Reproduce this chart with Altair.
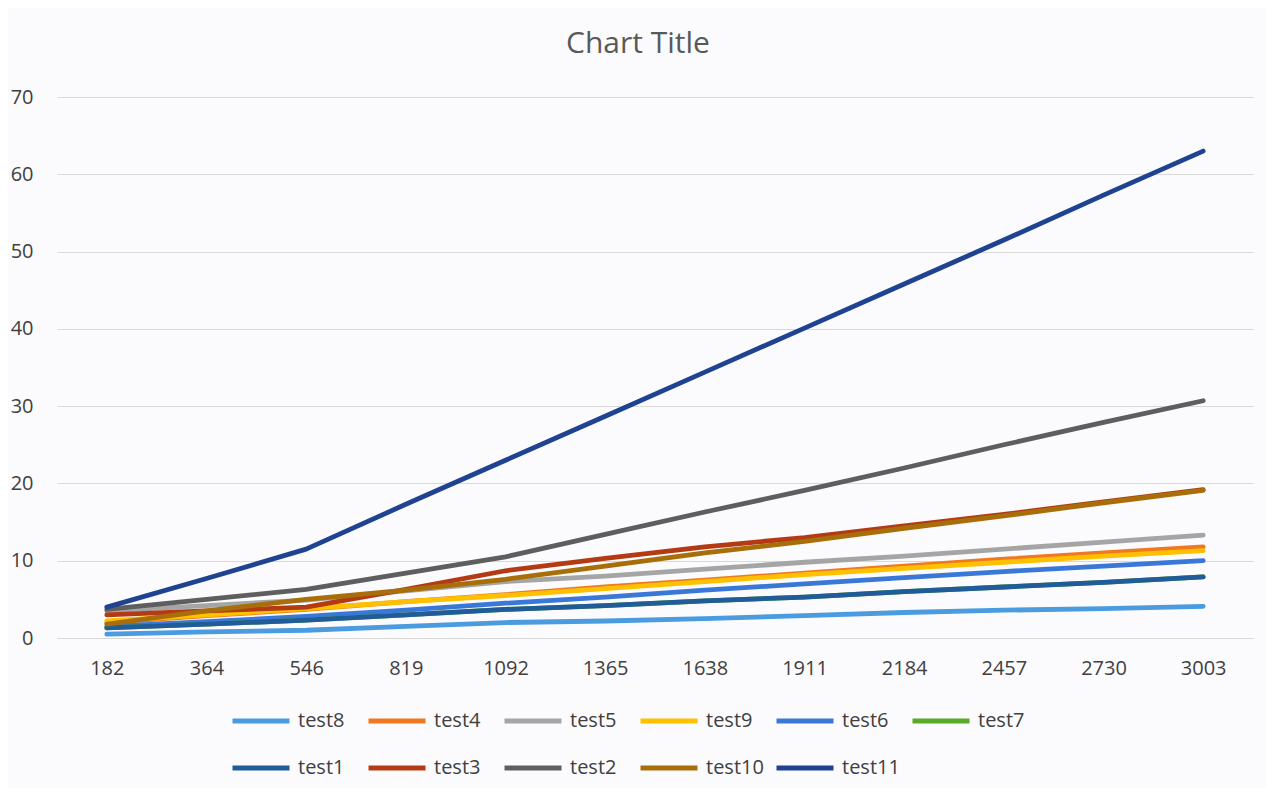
import altair as alt
import pandas as pd

categories = ["182", "364", "546", "819", "1092", "1365", "1638", "1911", "2184", "2457", "2730", "3003"]

series_names = ["test8", "test4", "test5", "test9", "test6", "test7",
                "test1", "test3", "test2", "test10", "test11"]

test8 = [0.5, 0.8, 1.0, 1.5, 2.0, 2.2, 2.5, 2.9, 3.3, 3.6, 3.8, 4.1]
test4 = [2.0, 2.9, 3.7, 4.7, 5.6, 6.6, 7.5, 8.4, 9.3, 10.2, 11.0, 11.8]
test5 = [3.5, 4.2, 4.9, 6.1, 7.3, 8.0, 8.9, 9.8, 10.6, 11.5, 12.4, 13.3]
test9 = [2.2, 3.0, 3.8, 4.7, 5.5, 6.4, 7.3, 8.2, 9.0, 9.8, 10.6, 11.3]
test6 = [1.5, 2.1, 2.8, 3.6, 4.5, 5.3, 6.2, 7.0, 7.8, 8.6, 9.3, 10.0]
test7 = [1.3, 1.8, 2.3, 3.0, 3.7, 4.2, 4.8, 5.3, 6.0, 6.6, 7.2, 7.9]
test1 = [1.3, 1.8, 2.3, 3.0, 3.7, 4.2, 4.8, 5.3, 6.0, 6.6, 7.2, 7.9]
test3 = [3.0, 3.5, 4.0, 6.3, 8.7, 10.3, 11.8, 13.0, 14.5, 16.0, 17.6, 19.2]
test2 = [3.7, 5.0, 6.3, 8.4, 10.5, 13.4, 16.3, 19.1, 22.0, 25.0, 27.9, 30.7]
test10 = [1.8, 3.5, 5.0, 6.2, 7.6, 9.3, 11.0, 12.5, 14.2, 15.8, 17.5, 19.1]
test11 = [4.0, 7.7, 11.5, 17.3, 23.0, 28.7, 34.4, 40.1, 45.8, 51.5, 57.3, 63.0]

series_values = [test8, test4, test5, test9, test6, test7,
                 test1, test3, test2, test10, test11]

colors = ["#4A9BE0", "#F07820", "#A5A5A5", "#FFC000", "#3A78D8", "#5AAA2A",
          "#1F5C99", "#B43A14", "#5E5E5E", "#A86E0A", "#1F4391"]

rows = []
for k, (name, vals) in enumerate(zip(series_names, series_values)):
    for i, (c, v) in enumerate(zip(categories, vals)):
        rows.append({"series": name, "cat": c, "value": v, "idx": i, "k": k})
df = pd.DataFrame(rows)

FONT = "Open Sans"
TXT = "#404040"

chart = alt.Chart(df).mark_line(strokeWidth=4.8, strokeCap="round", strokeJoin="round").encode(
    x=alt.X("cat:N", sort=categories, title=None,
            scale=alt.Scale(type="point", padding=0.5),
            axis=alt.Axis(labelAngle=0, labelFontSize=20, labelColor=TXT, labelFont=FONT,
                          ticks=False, domainColor="#D9D9D9", domainWidth=1,
                          labelPadding=20, grid=False)),
    y=alt.Y("value:Q", title=None,
            scale=alt.Scale(domain=[0, 70], nice=False),
            axis=alt.Axis(values=[0, 10, 20, 30, 40, 50, 60, 70], labelFontSize=20,
                          labelColor=TXT, labelFont=FONT, ticks=False, domain=False,
                          gridColor="#D9D9D9", gridWidth=1, labelPadding=24)),
    color=alt.Color("series:N", sort=series_names,
                    scale=alt.Scale(domain=series_names, range=colors),
                    legend=alt.Legend(title=None, orient="none", legendX=173, legendY=593,
                                      direction="horizontal",
                                      columns=6, symbolType="stroke", symbolSize=3249,
                                      symbolStrokeWidth=4.8, labelFontSize=20,
                                      labelFont=FONT, labelColor=TXT, labelOffset=6,
                                      columnPadding=2, rowPadding=6, gridAlign="all")),
    order=alt.Order("idx:Q"),
    detail="k:O",
).properties(
    width=1196, height=541,
    autosize=alt.AutoSizeParams(type="none"),
    padding={"left": 49, "top": 89, "right": 13, "bottom": 150},
    background="#FBFBFD",
    title=alt.TitleParams("Chart Title", fontSize=30, font=FONT, fontWeight="normal",
                          color="#595959", anchor="middle", frame="group", dx=-17, offset=28),
).configure_view(stroke=None)

chart.save("out.html", embed_options={"renderer": "svg", "actions": False})
